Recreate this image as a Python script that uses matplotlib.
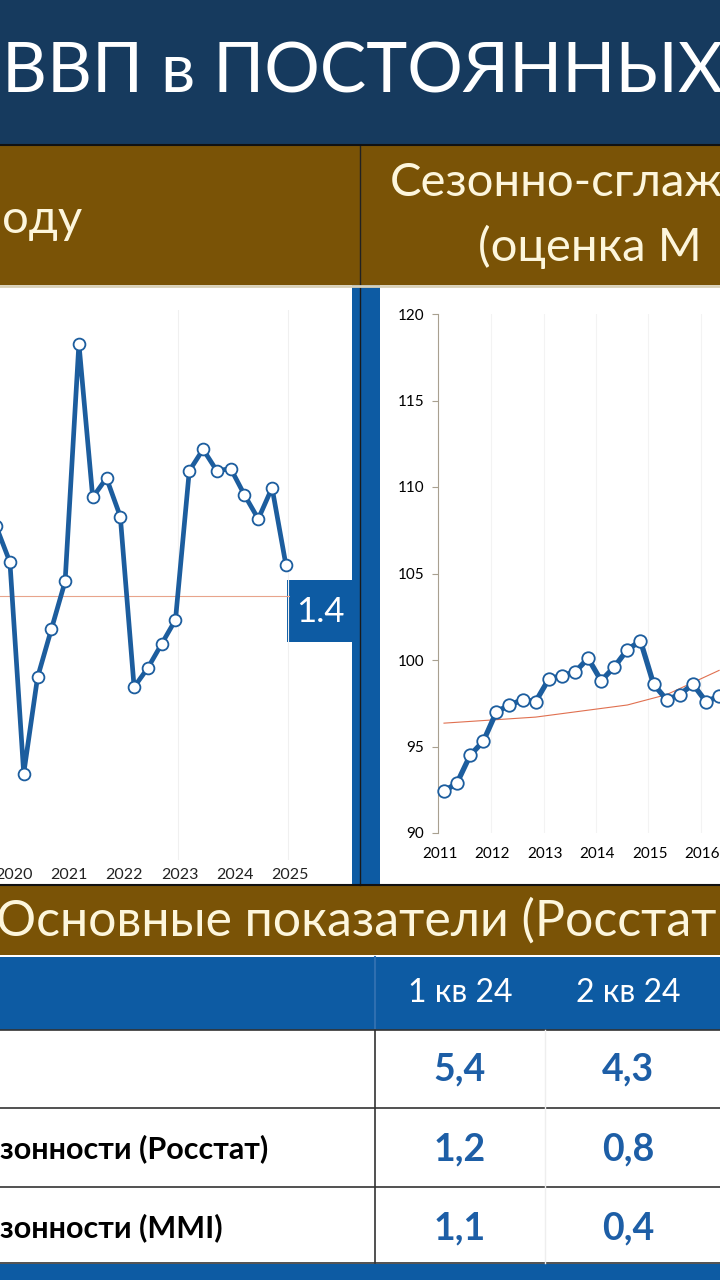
import numpy as np
import matplotlib.pyplot as plt
from matplotlib.patches import Rectangle

plt.rcParams['font.family'] = ['Lato', 'DejaVu Sans']

# ---- data ----
# ВВП, % г/г, с 4 кв 2019 по 1 кв 2025
yoy_q = np.arange(-21, 1)  # 0 = 1 кв 2025
yoy = [2.9, 1.4, -7.4, -3.4, -1.4, 0.6, 10.5, 4.1, 4.9, 3.3, -3.8, -3.0,
       -2.0, -1.0, 5.2, 6.1, 5.2, 5.3, 4.2, 3.2, 4.5, 1.3]
yoy_years = [2020, 2021, 2022, 2023, 2024, 2025]
yoy_last = "1.4"

# Сезонно-сглаженный индекс, с 1 кв 2011
sa_q = np.arange(0, 22)
sa = [92.4, 92.9, 94.5, 95.3, 97.0, 97.4, 97.7, 97.6, 98.9, 99.1, 99.3, 100.1,
      98.8, 99.6, 100.6, 101.1, 98.6, 97.7, 98.0, 98.6, 97.6, 97.9]
trend_q = [0, 7, 14, 17, 21]
trend = [96.35, 96.7, 97.4, 98.0, 99.4]
sa_years = [2011, 2012, 2013, 2014, 2015, 2016, 2017, 2018]

tbl_cols = ["1 кв 24", "2 кв 24"]
tbl_rows = ["", "зонности (Росстат)", "зонности (MMI)"]
tbl_vals = [["5,4", "4,3"], ["1,2", "0,8"], ["1,1", "0,4"]]

NAVY = "#163a5e"
BROWN = "#7a5306"
BLUE = "#0d5ba3"
LINE = "#1c5d9e"
CREAM = "#fdf6dc"

W, H = 720, 1280
fig = plt.figure(figsize=(7.2, 12.8), dpi=100)
bg = fig.add_axes([0, 0, 1, 1])
bg.set_xlim(0, W)
bg.set_ylim(H, 0)
bg.axis("off")

def rect(x, y, w, h, c, **kw):
    bg.add_patch(Rectangle((x, y), w, h, color=c, lw=0, **kw))

def px_axes(x0, y0, x1, y1):
    return fig.add_axes([x0 / W, 1 - y1 / H, (x1 - x0) / W, (y1 - y0) / H])

# header
rect(0, 0, W, 145, NAVY)
bg.text(2, 72, "ВВП в ПОСТОЯННЫХ Ц", color="white", fontsize=50,
        ha="left", va="center")
rect(0, 145, W, 140, BROWN)
bg.plot([360, 360], [145, 285], color="#222222", lw=1)
bg.plot([0, W], [145, 145], color="#111111", lw=1.5)
bg.text(2, 220, "оду", color=CREAM, fontsize=34, ha="left", va="center")
bg.text(390, 183, "Сезонно-сглаж", color=CREAM, fontsize=34, ha="left", va="center")
bg.text(478, 247, "(оценка М", color=CREAM, fontsize=34, ha="left", va="center")

# chart panels
rect(0, 285, 352, 600, "white")
rect(352, 285, 28, 600, BLUE)
bg.plot([360, 360], [285, 885], color="#1a1a1a", lw=1)
rect(380, 288, 340, 594, "white")
bg.plot([0, W], [286, 286], color="#d8d0b8", lw=2)

# left chart: yoy growth
spq = 13.9
axl = px_axes(0, 310, 290, 860)
x0q = -288 / spq
axl.set_xlim(x0q, 2 / spq)
axl.set_ylim(-11.0, 11.9)
axl.axhline(0, color="#e8a48c", lw=0.8)
axl.plot(yoy_q, yoy, color=LINE, lw=3.4, marker="o", ms=8.5, mfc="white",
         mec=LINE, mew=1.3, clip_on=False, zorder=3)
for s in axl.spines.values():
    s.set_visible(False)
axl.set_yticks([])
axl.set_xticks([(y - 2025) * 4 + 0.3 for y in yoy_years])
axl.set_xticklabels([str(y) for y in yoy_years])
axl.tick_params(axis="x", length=0, labelsize=11.5, pad=6, colors="#222222")
axl.patch.set_alpha(0)
for gx in [-8, 0]:
    axl.axvline(gx + 0.15, color="#f0f0f0", lw=0.8, zorder=0)
bg.add_patch(Rectangle((287, 580), 66, 62, color=BLUE, lw=0))
bg.text(320, 612, yoy_last, color="white", fontsize=25, ha="center", va="center")

# right chart: seasonally adjusted index
sq = 13.1
axr = px_axes(438, 314, 1000, 833)
axr.set_xlim(-6 / sq, (1000 - 444) / sq)
axr.set_ylim(90, 120)
axr.plot(trend_q, trend, color="#e07050", lw=0.8, zorder=2)
axr.plot(sa_q, sa, color=LINE, lw=3.8, marker="o", ms=9, mfc="white",
         mec=LINE, mew=1.3, clip_on=False, zorder=3)
for k in ["top", "right", "bottom"]:
    axr.spines[k].set_visible(False)
axr.spines["left"].set_color("#a8a090")
axr.set_yticks([90, 95, 100, 105, 110, 115, 120])
axr.tick_params(axis="y", labelsize=11, length=4, color="#a8a090", pad=6)
axr.set_xticks([(y - 2011) * 4 - 0.3 for y in sa_years])
axr.set_xticklabels([str(y) for y in sa_years])
axr.tick_params(axis="x", length=0, labelsize=11, pad=10)
axr.patch.set_alpha(0)
for y in sa_years[1:]:
    axr.axvline((y - 2011) * 4 - 0.4, color="#f3f3f3", lw=0.8, zorder=0)

# table
rect(0, 885, W, 70, BROWN)
bg.plot([0, W], [885, 885], color="#111111", lw=1.5)
bg.text(-4, 921, "Основные показатели (Росстат", color=CREAM, fontsize=36,
        ha="left", va="center")
rect(0, 957, W, 73, BLUE)
bg.plot([375, 375], [957, 1030], color="#2f6fb0", lw=1.5)
col_x = [460, 628]
for cx, c in zip(col_x, tbl_cols):
    bg.text(cx, 993, c, color="white", fontsize=23, ha="center", va="center")
row_y = [1069, 1149, 1228]
row_lines = [1030, 1108, 1187, 1263]
for ly in row_lines:
    bg.plot([0, W], [ly, ly], color="#333333", lw=1.2)
bg.plot([375, 375], [1030, 1263], color="#333333", lw=1.2)
bg.plot([545, 545], [1030, 1263], color="#eeeeee", lw=1)
for ry, lab, vals in zip(row_y, tbl_rows, tbl_vals):
    bg.text(0, ry, lab, color="black", fontsize=22, fontweight="bold",
            ha="left", va="center")
    for cx, v in zip(col_x, vals):
        bg.text(cx, ry, v, color="#1d5ea6", fontsize=27, fontweight="bold",
                ha="center", va="center")
rect(0, 1264, W, 16, BLUE)

fig.savefig("out.png", dpi=100)
